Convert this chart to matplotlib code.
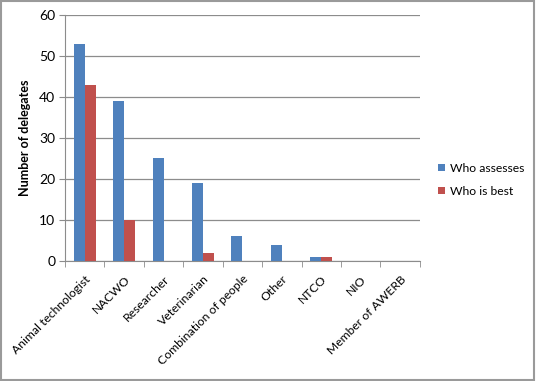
import matplotlib
matplotlib.use("Agg")
import matplotlib.pyplot as plt
import numpy as np

categories = ["Animal technologist", "NACWO", "Researcher", "Veterinarian",
              "Combination of people", "Other", "NTCO", "NIO", "Member of AWERB"]
who_assesses = [53, 39, 25, 19, 6, 4, 1, 0, 0]
who_is_best = [43, 10, 0, 2, 0, 0, 1, 0, 0]
yticks = [0, 10, 20, 30, 40, 50, 60]

plt.rcParams['font.family'] = ['Lato', 'DejaVu Sans']

fig = plt.figure(figsize=(5.37, 3.81), dpi=100)
ax = fig.add_axes([0.121, 0.315, 0.661, 0.646])

x = np.arange(len(categories))
w = 0.28
ax.bar(x - w/2, who_assesses, w, color='#4F81BD', label='Who assesses', zorder=3)
ax.bar(x + w/2, who_is_best, w, color='#C0504D', label='Who is best', zorder=3)

ax.set_xlim(-0.5, len(categories) - 0.5)
ax.set_ylim(0, 60)
ax.set_yticks(yticks)
ax.yaxis.grid(True, color='#8c8c8c', linewidth=0.9, zorder=0)
ax.set_axisbelow(True)

ax.set_xticks(x)
ax.set_xticklabels(categories, rotation=45, ha='right', rotation_mode='anchor', fontsize=8.7)
ax.set_xticks(np.arange(-0.5, len(categories)), minor=True)
ax.tick_params(axis='x', which='major', length=0, pad=9)
ax.tick_params(axis='x', which='minor', length=4, color='#8c8c8c', direction='out')
ax.tick_params(axis='y', length=4, color='#8c8c8c', labelsize=10, pad=3)

for s in ['top', 'right']:
    ax.spines[s].set_visible(False)
for s in ['left', 'bottom']:
    ax.spines[s].set_color('#8c8c8c')

ax.set_ylabel('Number of delegates', fontsize=9, fontweight='bold', labelpad=6)

ax.legend(loc='center left', bbox_to_anchor=(1.02, 0.33), frameon=False,
          fontsize=8.7, handlelength=0.6, handleheight=0.6, handletextpad=0.4,
          labelspacing=1.0)

border = plt.Rectangle((0.002, 0.002), 0.993, 0.995, transform=fig.transFigure,
                       fill=False, edgecolor='#9a9a9a', linewidth=1.5)
fig.patches.append(border)

fig.savefig('out.png', dpi=100)
